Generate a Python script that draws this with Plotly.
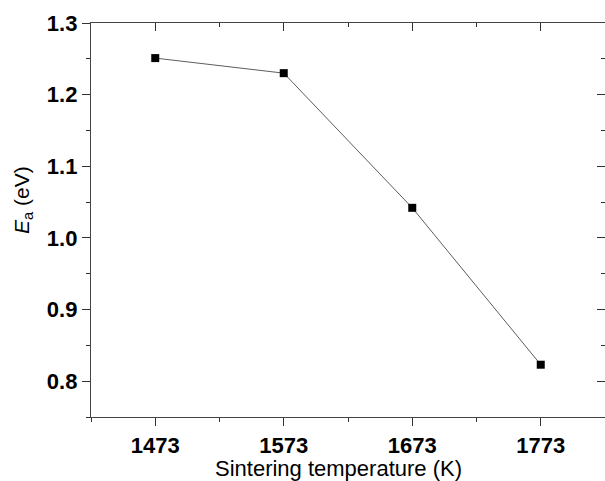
import plotly.graph_objects as go

temps = [1473, 1573, 1673, 1773]
ea_values = [1.251, 1.230, 1.042, 0.823]
x_ticks = [1473, 1573, 1673, 1773]
y_ticks = [0.8, 0.9, 1.0, 1.1, 1.2, 1.3]

FONT = "Arial, Liberation Sans, Helvetica, sans-serif"
xr = [1423, 1823]
yr = [0.75, 1.3]

fig = go.Figure()
fig.add_trace(go.Scatter(
    x=temps, y=ea_values, mode="lines+markers",
    line=dict(color="#333333", width=0.8),
    marker=dict(symbol="square", size=8, color="black"),
    showlegend=False, cliponaxis=False,
))

common_tick = dict(tickcolor="#333333", tickwidth=1.3, linecolor="#444444", linewidth=1.3, showgrid=False, zeroline=False)

fig.update_layout(
    width=605, height=481,
    margin=dict(l=91, r=0, t=23, b=64),
    paper_bgcolor="white", plot_bgcolor="white",
    xaxis=dict(
        range=xr, tickvals=x_ticks, ticktext=[str(v) for v in x_ticks],
        ticks="outside", ticklen=8, showline=True, automargin=False,
        tickfont=dict(family=FONT, size=22, color="black", weight="bold"),
        minor=dict(tick0=1473, dtick=50, ticks="outside", ticklen=4, tickcolor="#333333", tickwidth=1.3),
        **common_tick,
    ),
    yaxis=dict(
        range=yr, tickvals=y_ticks, ticktext=[f"{v:.1f}" for v in y_ticks],
        ticks="outside", ticklen=8, showline=True, automargin=False,
        tickfont=dict(family=FONT, size=22, color="black", weight="bold"),
        minor=dict(tick0=0.75, dtick=0.05, ticks="outside", ticklen=4, tickcolor="#333333", tickwidth=1.3),
        **common_tick,
    ),
    xaxis2=dict(
        range=xr, overlaying="x", side="top", anchor="y", automargin=False,
        tickvals=x_ticks, showticklabels=False, ticks="inside", ticklen=8, showline=True,
        minor=dict(tick0=1473, dtick=50, ticks="inside", ticklen=4, tickcolor="#333333", tickwidth=1.3),
        **common_tick,
    ),
    yaxis2=dict(
        range=yr, overlaying="y", side="right", anchor="x", automargin=False,
        tickvals=y_ticks, showticklabels=False, ticks="inside", ticklen=8, showline=False,
        minor=dict(tick0=0.75, dtick=0.05, ticks="inside", ticklen=4, tickcolor="#333333", tickwidth=1.3),
        **common_tick,
    ),
)
fig.add_trace(go.Scatter(x=[], y=[], xaxis="x2", yaxis="y2", showlegend=False, hoverinfo="skip"))

fig.add_annotation(
    text="Sintering temperature (K)", showarrow=False,
    xref="paper", yref="paper", x=(338.5 - 91) / 514, y=(417 - 482) / 394,
    xanchor="center", yanchor="bottom", borderpad=0,
    font=dict(family=FONT, size=22, color="black"),
)
fig.add_annotation(
    text="<i>E</i><sub>a</sub> (eV)", textangle=-90, showarrow=False,
    xref="paper", yref="paper", x=(23 - 91) / 514, y=(417 - 200) / 394,
    xanchor="center", yanchor="middle",
    font=dict(family=FONT, size=21, color="black"),
)

fig.write_html("out.html")
